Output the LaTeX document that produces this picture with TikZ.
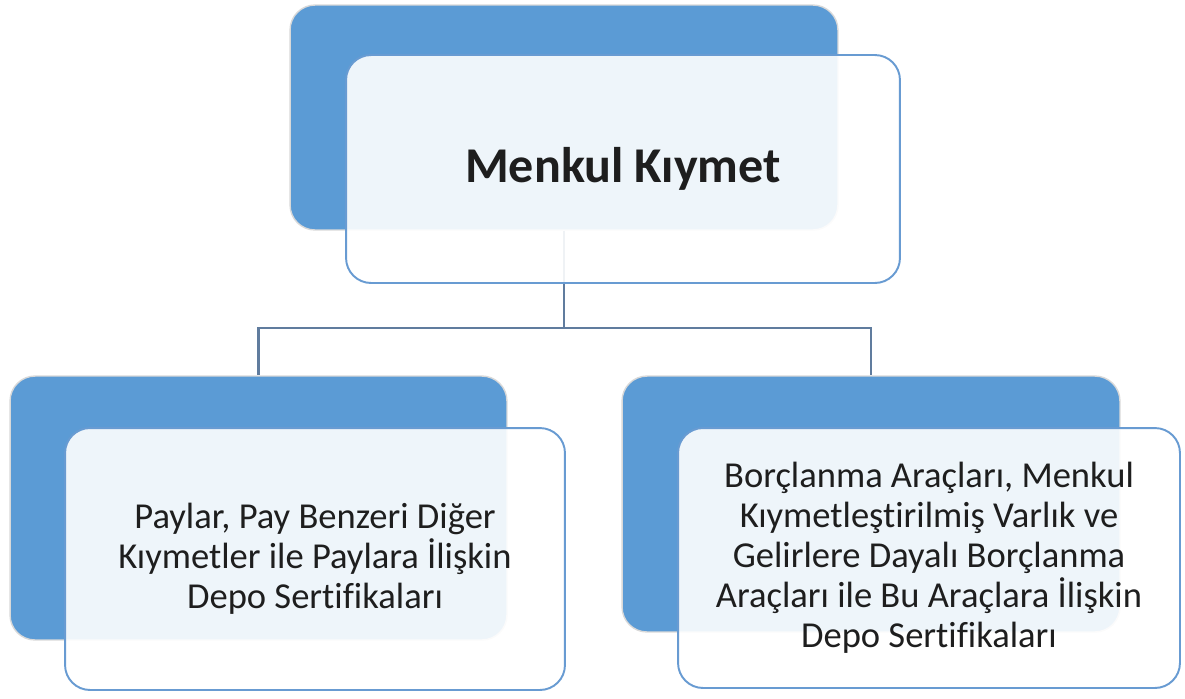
\documentclass[tikz,border=0pt]{standalone}
\usepackage{fontspec}
\setmainfont{Carlito}[Ligatures=NoCommon]
\usepackage{tikz}
\definecolor{boxblue}{RGB}{91,155,213}
\definecolor{edgeblue}{RGB}{104,155,210}
\definecolor{linkblue}{RGB}{96,124,158}
\definecolor{textgray}{RGB}{30,30,30}
\tikzset{back/.style = {rectangle, rounded corners = 0.5cm, fill = boxblue,
                        draw = black!15, line width = 0.8pt, inner sep = 0}}
\tikzset{front/.style = {rectangle, rounded corners = 0.5cm, fill = white, fill opacity = 0.9,
                         text opacity = 1, draw = edgeblue, line width = 1.1pt,
                         align = center, text = textgray, inner sep = 0}}
\tikzset{link/.style = {draw = linkblue, line width = 1.5pt}}

\begin{document}
\begin{tikzpicture}[x=0.02cm, y=-0.02cm]
    \useasboundingbox (0, 0) rectangle (1185, 698);
    \node [back, minimum width = 10.96cm, minimum height = 4.5cm] (topback) at (564, 117.5) {};
    \node [back, minimum width = 9.94cm, minimum height = 5.28cm] (leftback) at (258.5, 508) {};
    \node [back, minimum width = 9.96cm, minimum height = 5.12cm] (rightback) at (871, 504) {};

    \coordinate (bus) at (564, 328);
    \draw [link] (topback.south) -- (bus) -| (leftback.north);
    \draw [link] (bus) -| (rightback.north);

    \node [front, minimum width = 11.08cm, minimum height = 4.56cm,
           font = \fontsize{28.5}{34}\selectfont\bfseries] (topfront) at (623, 169) {Menkul Kıymet};
    \node [front, minimum width = 10.0cm, minimum height = 5.24cm,
           font = \fontsize{20.8}{22.8}\selectfont] (leftfront) at (315, 559)
          {Paylar, Pay Benzeri Diğer\\Kıymetler ile Paylara İlişkin\\Depo Sertifikaları};
    \node [front, minimum width = 10.04cm, minimum height = 5.2cm,
           font = \fontsize{20.8}{22.8}\selectfont] (rightfront) at (929, 558)
          {Borçlanma Araçları, Menkul\\Kıymetleştirilmiş Varlık ve\\Gelirlere Dayalı Borçlanma\\Araçları ile Bu Araçlara İlişkin\\Depo Sertifikaları};
  \end{tikzpicture}
\end{document}
